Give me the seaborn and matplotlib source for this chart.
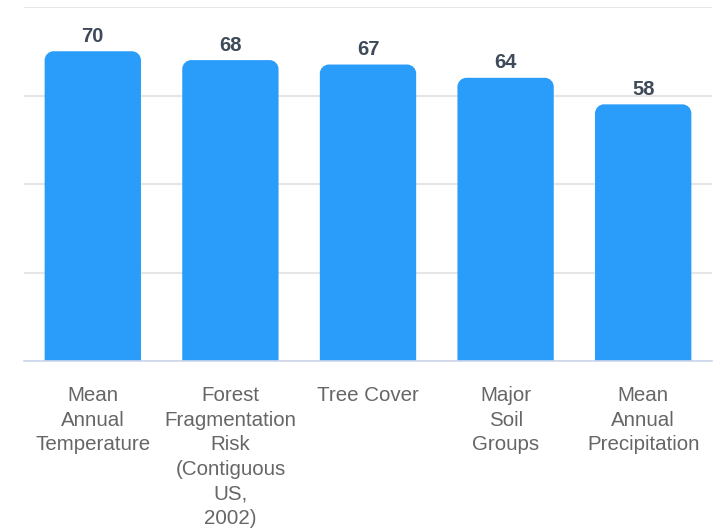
import matplotlib
matplotlib.use("Agg")
import matplotlib.pyplot as plt
from matplotlib.path import Path
from matplotlib.patches import PathPatch
import seaborn as sns
import pandas as pd

categories = ["Mean\nAnnual\nTemperature",
              "Forest\nFragmentation\nRisk\n(Contiguous\nUS,\n2002)",
              "Tree Cover",
              "Major\nSoil\nGroups",
              "Mean\nAnnual\nPrecipitation"]
values = [70, 68, 67, 64, 58]
value_labels = ["70", "68", "67", "64", "58"]

sns.set_theme(style="white")
plt.rcParams['font.family'] = ['Liberation Sans', 'DejaVu Sans']

df = pd.DataFrame({"cat": categories, "val": values})

fig = plt.figure(figsize=(7.21, 5.32), dpi=100)
ax = fig.add_axes([24/721, 1-361/532, (712-24)/721, (361-7)/532])

sns.barplot(data=df, x="cat", y="val", color="#2a9cf9", saturation=1,
            width=0.7, ax=ax, zorder=3)

ax.set_xlim(-0.5, 4.5)
ax.set_ylim(0, 80)

# rounded top corners
px_per_x = (712-24)/5
px_per_y = (361-7)/80
r_px = 9
rx = r_px/px_per_x
ry = r_px/px_per_y
k = 0.5523
for p in list(ax.patches):
    x0, y0 = p.get_x(), p.get_y()
    w, h = p.get_width(), p.get_height()
    x1, y1 = x0+w, y0+h
    verts = [(x0, y0), (x0, y1-ry),
             (x0, y1-ry+k*ry), (x0+rx-k*rx, y1), (x0+rx, y1),
             (x1-rx, y1),
             (x1-rx+k*rx, y1), (x1, y1-ry+k*ry), (x1, y1-ry),
             (x1, y0), (x0, y0)]
    codes = [Path.MOVETO, Path.LINETO,
             Path.CURVE4, Path.CURVE4, Path.CURVE4,
             Path.LINETO,
             Path.CURVE4, Path.CURVE4, Path.CURVE4,
             Path.LINETO, Path.CLOSEPOLY]
    pp = PathPatch(Path(verts, codes), facecolor=p.get_facecolor(),
                   edgecolor="none", zorder=3)
    p.set_visible(False)
    ax.add_patch(pp)

for i, (v, lab) in enumerate(zip(values, value_labels)):
    ax.annotate(lab, (i, v), xytext=(0, 4), textcoords="offset points",
                ha="center", va="bottom", fontsize=14.5, fontweight="bold",
                color="#3f4a5a")

# grid
ax.set_yticks([0, 20, 40, 60, 80])
ax.set_yticklabels([])
ax.tick_params(axis="y", length=0)
ax.yaxis.grid(True, color="#e6e6e6", linewidth=1.5, zorder=0)
ax.set_axisbelow(True)

for s in ["top", "right", "left"]:
    ax.spines[s].set_visible(False)
ax.spines["bottom"].set_color("#ccd6eb")
ax.spines["bottom"].set_linewidth(1.2)
ax.spines["bottom"].set_zorder(4)

ax.set_xticks(range(5))
ax.set_xticklabels(categories, fontsize=14.8, color="#666666", linespacing=1.38)
ax.tick_params(axis="x", which="major", length=0, pad=18)
ax.set_xticks([0.5, 1.5, 2.5, 3.5, 4.5], minor=True)
ax.tick_params(axis="x", which="minor", length=8, color="#ccd6eb", width=1.2)
ax.set_xlabel("")
ax.set_ylabel("")

fig.savefig("out.png", dpi=100)
